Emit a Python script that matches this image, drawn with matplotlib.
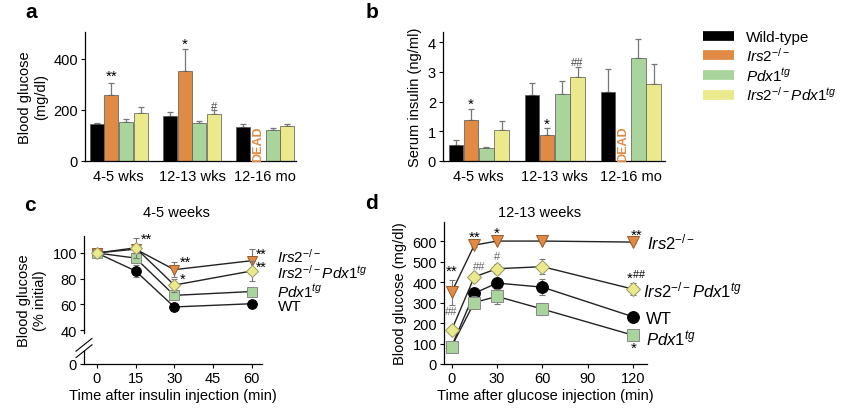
import numpy as np
import matplotlib.pyplot as plt
from matplotlib.lines import Line2D

plt.rcParams['font.family'] = 'Liberation Sans'
plt.rcParams['mathtext.fontset'] = 'custom'
plt.rcParams['mathtext.rm'] = 'Liberation Sans'
plt.rcParams['mathtext.it'] = 'Liberation Sans:italic'
plt.rcParams['font.size'] = 10
plt.rcParams['axes.linewidth'] = 0.9

W, H = 850, 414

# ---- data ----
groups = ["4-5 wks", "12-13 wks", "12-16 mo"]
labels = ["Wild-type", r"$\mathit{Irs2}^{\mathit{-/-}}$", r"$\mathit{Pdx1}^{\mathit{tg}}$",
          r"$\mathit{Irs2}^{\mathit{-/-}}\mathit{Pdx1}^{\mathit{tg}}$"]
colors = ["#000000", "#E08A44", "#A9D49B", "#EAEA8C"]

glucose_wt = [145, 175, 135]
glucose_wt_err = [5, 15, 10]
glucose_irs2 = [260, 352, np.nan]
glucose_irs2_err = [45, 88, np.nan]
glucose_pdx1 = [152, 150, 120]
glucose_pdx1_err = [11, 7, 10]
glucose_dko = [187, 183, 138]
glucose_dko_err = [26, 17, 7]

insulin_wt = [0.55, 2.22, 2.32]
insulin_wt_err = [0.15, 0.40, 0.78]
insulin_irs2 = [1.38, 0.88, np.nan]
insulin_irs2_err = [0.37, 0.22, np.nan]
insulin_pdx1 = [0.43, 2.25, 3.45]
insulin_pdx1_err = [0.04, 0.45, 0.67]
insulin_dko = [1.05, 2.82, 2.60]
insulin_dko_err = [0.28, 0.33, 0.65]

itt_time = [0, 15, 30, 60]
itt_wt = [100, 86, 58, 60.5]
itt_wt_err = [0, 5, 2, 2]
itt_pdx1 = [100, 96, 67, 70]
itt_pdx1_err = [0, 4, 3, 3]
itt_irs2 = [100, 103, 87, 94]
itt_irs2_err = [0, 3, 6, 9]
itt_dko = [100, 104, 75, 86]
itt_dko_err = [0, 8, 5, 8]

gtt_time = [0, 15, 30, 60, 120]
gtt_wt = [85, 345, 395, 375, 230]
gtt_wt_err = [10, 20, 25, 40, 25]
gtt_pdx1 = [85, 300, 330, 268, 140]
gtt_pdx1_err = [10, 30, 35, 30, 15]
gtt_irs2 = [350, 580, 600, 600, 595]
gtt_irs2_err = [60, 10, 5, 5, 5]
gtt_dko = [165, 425, 465, 475, 365]
gtt_dko_err = [12, 20, 25, 35, 30]


def rect(l, t, r, b):
    return [l / W, 1 - b / H, (r - l) / W, (b - t) / H]


fig = plt.figure(figsize=(W / 100, H / 100), dpi=100)

ax_a = fig.add_axes(rect(85, 33, 296, 162))
ax_b = fig.add_axes(rect(443, 33, 665, 162))
ax_c = fig.add_axes(rect(84, 237, 262, 365))
ax_d = fig.add_axes(rect(444, 223, 647, 365))

for ax in (ax_a, ax_b, ax_c, ax_d):
    ax.spines[['top', 'right']].set_visible(False)
    ax.tick_params(direction='out', length=3, width=0.8, labelsize=10.5, pad=2)

# ---- bar panels ----
width = 0.19
offsets = np.array([-1.5, -0.5, 0.5, 1.5]) * 0.2
x = np.arange(len(groups))


def bars(ax, series, errs):
    for i, (vals, err) in enumerate(zip(series, errs)):
        xi = x + offsets[i]
        ax.bar(xi, vals, width, color=colors[i], edgecolor='#555555', linewidth=0.5, zorder=2)
        err = np.array(err, dtype=float)
        ax.errorbar(xi, vals, yerr=[np.zeros_like(err), err], fmt='none',
                    ecolor='#777777', elinewidth=0.9, capsize=2.5, capthick=0.9, zorder=1)
    ax.set_xticks(x)
    ax.set_xticklabels(groups, fontsize=10.5)
    ax.tick_params(axis='x', length=0, pad=6)
    ax.text(x[2] + offsets[1], 0, "DEAD", rotation=90, ha='center', va='bottom',
            color=colors[1], fontweight='bold', fontsize=9)


bars(ax_a, [glucose_wt, glucose_irs2, glucose_pdx1, glucose_dko],
     [glucose_wt_err, glucose_irs2_err, glucose_pdx1_err, glucose_dko_err])
ax_a.set_xlim(-0.46, 2.42)
ax_a.set_ylim(0, 505)
ax_a.set_yticks([0, 200, 400])
ax_a.set_ylabel("Blood glucose\n(mg/dl)", fontsize=10.5, labelpad=4)
ax_a.text(x[0] + offsets[1], 333, "**", ha='center', va='center', fontsize=11)
ax_a.text(x[1] + offsets[1], 459, "*", ha='center', va='center', fontsize=11)
ax_a.text(x[1] + offsets[3], 216, "#", ha='center', va='center', fontsize=8, color='#444444')

bars(ax_b, [insulin_wt, insulin_irs2, insulin_pdx1, insulin_dko],
     [insulin_wt_err, insulin_irs2_err, insulin_pdx1_err, insulin_dko_err])
ax_b.set_xlim(-0.47, 2.45)
ax_b.set_ylim(0, 4.34)
ax_b.set_yticks([0, 1, 2, 3, 4])
ax_b.set_ylabel("Serum insulin (ng/ml)", fontsize=10.5, labelpad=4)
ax_b.text(x[0] + offsets[1], 1.92, "*", ha='center', va='center', fontsize=11)
ax_b.text(x[1] + offsets[1], 1.25, "*", ha='center', va='center', fontsize=11)
ax_b.text(x[1] + offsets[3], 3.33, "##", ha='center', va='center', fontsize=8, color='#444444')

handles = [Line2D([], [], color=c, lw=7, solid_capstyle='butt') for c in colors]
fig.legend(handles, labels, loc='upper left', bbox_to_anchor=(697 / W, 1 - 25 / H),
           frameon=False, fontsize=11, handlelength=2.0, handletextpad=0.8,
           labelspacing=0.12, borderaxespad=0)

# ---- line panels ----
styles = [
    dict(marker='o', color=colors[0], mec='black'),
    dict(marker='s', color=colors[2], mec='#888888'),
    dict(marker='v', color=colors[1], mec='#9a5a2a'),
    dict(marker='D', color=colors[3], mec='#999966'),
]


def lines(ax, t, series, errs, ms):
    for i, (vals, err) in enumerate(zip(series, errs)):
        st = styles[i]
        m = ms * (0.85 if st['marker'] == 'D' else 1.0)
        ax.errorbar(t, vals, yerr=err, fmt='none', ecolor='#777777', elinewidth=0.8,
                    capsize=2, capthick=0.8, zorder=2 + i)
        ax.plot(t, vals, '-', color='#222222', lw=1.0, marker=st['marker'], ms=m,
                mfc=st['color'], mec=st['mec'], mew=0.7, zorder=3 + i)


# panel c: broken y axis
def fwd(y):
    y = np.asarray(y, dtype=float)
    return np.where(y >= 40, y, 40 - (40 - y) * 0.66)


def inv(t):
    t = np.asarray(t, dtype=float)
    return np.where(t >= 40, t, 40 - (40 - t) / 0.66)


ax_c.set_yscale('function', functions=(fwd, inv))
lines(ax_c, itt_time, [itt_wt, itt_pdx1, itt_irs2, itt_dko],
      [itt_wt_err, itt_pdx1_err, itt_irs2_err, itt_dko_err], 7)
ax_c.set_xlim(-5, 64)
ax_c.set_ylim(0, 113.2)
ax_c.set_yticks([0, 40, 60, 80, 100])
ax_c.set_yticklabels(["0", "40", "60", "80", "100"])
ax_c.set_xticks([0, 15, 30, 45, 60])
ax_c.set_ylabel("Blood glucose\n(% initial)", fontsize=10.5, labelpad=4)
ax_c.set_xlabel("Time after insulin injection (min)", fontsize=10.5, labelpad=2)
ax_c.spines['left'].set_bounds(36, 113.2)
ax_c.plot([0, 0], [0, 0.1], transform=ax_c.transAxes, color='black', lw=0.9, clip_on=False)
for dy in (0.0, 0.05):
    ax_c.plot([-0.045, 0.045], [0.1 + dy - 0.05, 0.1 + dy + 0.05], transform=ax_c.transAxes,
              color='black', lw=0.8, clip_on=False)

ax_c.text(17, 111, "**", ha='left', va='center', fontsize=10.5)
ax_c.text(32, 93, "**", ha='left', va='center', fontsize=10.5)
ax_c.text(32, 80, "*", ha='left', va='center', fontsize=10.5)
ax_c.text(61.5, 99, "**", ha='left', va='center', fontsize=10)
ax_c.text(61.5, 89, "**", ha='left', va='center', fontsize=10)
ax_c.text(70, 97.7, r"$\mathit{Irs2}^{\mathit{-/-}}$", ha='left', va='center', fontsize=11, clip_on=False)
ax_c.text(70, 85, r"$\mathit{Irs2}^{\mathit{-/-}}\mathit{Pdx1}^{\mathit{tg}}$", ha='left', va='center', fontsize=11, clip_on=False)
ax_c.text(70, 70.4, r"$\mathit{Pdx1}^{\mathit{tg}}$", ha='left', va='center', fontsize=11, clip_on=False)
ax_c.text(70, 58.7, "WT", ha='left', va='center', fontsize=11, clip_on=False)

# panel d
lines(ax_d, gtt_time, [gtt_wt, gtt_pdx1, gtt_irs2, gtt_dko],
      [gtt_wt_err, gtt_pdx1_err, gtt_irs2_err, gtt_dko_err], 8.5)
ax_d.set_xlim(-5, 129)
ax_d.set_ylim(0, 693)
ax_d.set_yticks(np.arange(0, 601, 100))
ax_d.set_xticks([0, 30, 60, 90, 120])
ax_d.set_ylabel("Blood glucose (mg/dl)", fontsize=10.5, labelpad=4)
ax_d.set_xlabel("Time after glucose injection (min)", fontsize=10.5, labelpad=2)

ax_d.text(0, 455, "**", ha='center', va='center', fontsize=11)
ax_d.text(0, 258, "##", ha='center', va='center', fontsize=8, color='#666666')
ax_d.text(15, 620, "**", ha='center', va='center', fontsize=11)
ax_d.text(30, 640, "*", ha='center', va='center', fontsize=11)
ax_d.text(18.5, 478, "##", ha='center', va='center', fontsize=8, color='#666666')
ax_d.text(30, 527, "#", ha='center', va='center', fontsize=8, color='#666666')
ax_d.text(122.5, 632, "**", ha='center', va='center', fontsize=11, clip_on=False)
ax_d.text(122, 430, r"*$^{\#\#}$", ha='center', va='center', fontsize=11, clip_on=False)
ax_d.text(120, 78, "*", ha='center', va='center', fontsize=11)
ax_d.text(129, 600, r"$\mathit{Irs2}^{\mathit{-/-}}$", ha='left', va='center', fontsize=12, clip_on=False)
ax_d.text(126.5, 366, r"$\mathit{Irs2}^{\mathit{-/-}}\mathit{Pdx1}^{\mathit{tg}}$", ha='left', va='center', fontsize=12, clip_on=False)
ax_d.text(128.5, 224, "WT", ha='left', va='center', fontsize=12, clip_on=False)
ax_d.text(128.5, 127, r"$\mathit{Pdx1}^{\mathit{tg}}$", ha='left', va='center', fontsize=12, clip_on=False)

# titles and panel letters
fig.text(176 / W, 1 - 213 / H, "4-5 weeks", ha='center', va='center', fontsize=10.5)
fig.text(540 / W, 1 - 213 / H, "12-13 weeks", ha='center', va='center', fontsize=10.5)
for lab, px, py in [("a", 31, 13), ("b", 372, 13), ("c", 30, 206), ("d", 372, 204)]:
    fig.text(px / W, 1 - py / H, lab, ha='center', va='center', fontsize=15, fontweight='bold')

fig.savefig("out.png", dpi=100)
